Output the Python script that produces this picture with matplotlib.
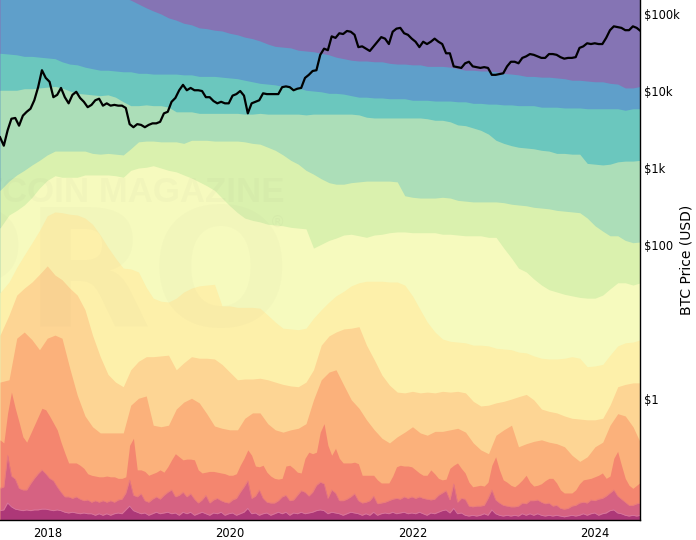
import matplotlib
matplotlib.use("Agg")
import matplotlib.pyplot as plt
import matplotlib.dates as mdates
import numpy as np
import pandas as pd

# upper edge of each age band, log10(USD), one value per month from 2017-07
band_1 = [5.3, 5.3, 5.3, 5.3, 5.3, 5.3, 5.3, 5.3, 5.3, 5.3, 5.3, 5.3,
          5.3, 5.3, 5.3, 5.3, 5.22, 5.18, 5.13, 5.08, 5.04, 5.00, 4.95, 4.92,
          4.88, 4.86, 4.82, 4.81, 4.79, 4.78, 4.75, 4.73, 4.70, 4.68, 4.65, 4.61,
          4.58, 4.57, 4.56, 4.53, 4.52, 4.51, 4.49, 4.47, 4.44, 4.42, 4.40, 4.39,
          4.39, 4.38, 4.38, 4.36, 4.35, 4.35, 4.34, 4.34, 4.32, 4.32, 4.32, 4.31,
          4.29, 4.27, 4.27, 4.26, 4.26, 4.25, 4.23, 4.22, 4.21, 4.19, 4.19, 4.18,
          4.18, 4.17, 4.16, 4.14, 4.14, 4.13, 4.12, 4.12, 4.10, 4.09, 4.04, 4.04,
          4.06]
band_2 = [4.49, 4.48, 4.47, 4.45, 4.45, 4.44, 4.43, 4.42, 4.38, 4.35, 4.34, 4.31,
          4.29, 4.27, 4.27, 4.26, 4.25, 4.25, 4.23, 4.23, 4.22, 4.22, 4.22, 4.22,
          4.21, 4.21, 4.19, 4.19, 4.19, 4.18, 4.17, 4.16, 4.14, 4.12, 4.10, 4.09,
          4.08, 4.06, 4.05, 4.04, 4.01, 4.00, 3.99, 3.97, 3.97, 3.96, 3.94, 3.92,
          3.92, 3.91, 3.91, 3.90, 3.90, 3.90, 3.88, 3.88, 3.88, 3.87, 3.87, 3.87,
          3.86, 3.86, 3.84, 3.84, 3.83, 3.83, 3.82, 3.82, 3.81, 3.81, 3.81, 3.79,
          3.79, 3.79, 3.78, 3.78, 3.78, 3.77, 3.77, 3.77, 3.77, 3.77, 3.75, 3.77,
          3.77]
band_3 = [4.01, 4.01, 4.01, 4.03, 4.03, 4.04, 4.05, 4.06, 4.04, 4.00, 3.97, 3.96,
          3.95, 3.94, 3.95, 3.92, 3.86, 3.81, 3.81, 3.82, 3.81, 3.81, 3.79, 3.73,
          3.73, 3.73, 3.71, 3.71, 3.71, 3.71, 3.71, 3.71, 3.70, 3.70, 3.71, 3.70,
          3.70, 3.70, 3.70, 3.70, 3.69, 3.70, 3.70, 3.70, 3.70, 3.70, 3.70, 3.69,
          3.66, 3.65, 3.65, 3.65, 3.65, 3.65, 3.65, 3.65, 3.64, 3.62, 3.62, 3.60,
          3.56, 3.55, 3.52, 3.49, 3.44, 3.36, 3.32, 3.29, 3.27, 3.26, 3.25, 3.23,
          3.22, 3.19, 3.19, 3.18, 3.18, 3.06, 3.05, 3.04, 3.05, 3.08, 3.09, 3.09,
          3.10]
band_4 = [2.71, 2.83, 2.91, 2.97, 3.04, 3.10, 3.17, 3.22, 3.22, 3.22, 3.22, 3.22,
          3.19, 3.18, 3.19, 3.18, 3.17, 3.25, 3.34, 3.35, 3.35, 3.34, 3.34, 3.34,
          3.32, 3.36, 3.36, 3.36, 3.35, 3.35, 3.35, 3.35, 3.34, 3.32, 3.31, 3.27,
          3.23, 3.17, 3.10, 3.05, 2.97, 2.92, 2.86, 2.81, 2.79, 2.79, 2.81, 2.82,
          2.83, 2.83, 2.83, 2.83, 2.82, 2.64, 2.62, 2.61, 2.61, 2.61, 2.62, 2.61,
          2.58, 2.57, 2.56, 2.56, 2.56, 2.56, 2.55, 2.53, 2.52, 2.51, 2.49, 2.48,
          2.47, 2.45, 2.44, 2.43, 2.42, 2.35, 2.25, 2.18, 2.12, 2.12, 2.06, 2.03,
          2.04]
band_5 = [2.22, 2.39, 2.45, 2.52, 2.62, 2.74, 2.84, 2.90, 2.88, 2.88, 2.88, 2.91,
          2.91, 2.91, 2.91, 2.90, 2.88, 2.97, 3.00, 3.01, 3.03, 3.00, 2.97, 2.95,
          2.91, 2.87, 2.82, 2.77, 2.71, 2.61, 2.51, 2.42, 2.35, 2.32, 2.30, 2.27,
          2.26, 2.25, 2.23, 2.22, 2.21, 1.96, 2.01, 2.06, 2.09, 2.13, 2.14, 2.12,
          2.10, 2.13, 2.14, 2.16, 2.17, 2.17, 2.16, 2.16, 2.16, 2.16, 2.14, 2.14,
          2.13, 2.12, 2.12, 2.12, 2.10, 2.10, 1.96, 1.83, 1.70, 1.65, 1.56, 1.48,
          1.42, 1.39, 1.36, 1.34, 1.32, 1.31, 1.31, 1.35, 1.43, 1.51, 1.51, 1.48,
          1.51]
band_6 = [1.38, 1.52, 1.71, 1.87, 2.03, 2.19, 2.38, 2.43, 2.42, 2.40, 2.39, 2.35,
          2.27, 2.13, 1.97, 1.83, 1.70, 1.69, 1.65, 1.45, 1.31, 1.27, 1.26, 1.31,
          1.39, 1.44, 1.47, 1.48, 1.49, 1.21, 1.21, 1.19, 1.19, 1.19, 1.18, 1.09,
          1.00, 0.92, 0.91, 0.90, 0.92, 1.05, 1.16, 1.26, 1.34, 1.40, 1.47, 1.51,
          1.53, 1.53, 1.53, 1.52, 1.52, 1.48, 1.34, 1.16, 1.00, 0.87, 0.78, 0.75,
          0.74, 0.73, 0.70, 0.70, 0.69, 0.66, 0.65, 0.64, 0.61, 0.60, 0.56, 0.53,
          0.52, 0.52, 0.53, 0.55, 0.53, 0.42, 0.43, 0.45, 0.57, 0.69, 0.73, 0.74,
          0.77]
band_7 = [0.83, 1.09, 1.35, 1.44, 1.52, 1.62, 1.73, 1.61, 1.55, 1.44, 1.35, 1.16,
          0.83, 0.55, 0.32, 0.22, 0.16, 0.38, 0.49, 0.55, 0.55, 0.56, 0.57, 0.38,
          0.47, 0.55, 0.53, 0.53, 0.52, 0.45, 0.35, 0.25, 0.26, 0.26, 0.27, 0.25,
          0.22, 0.19, 0.17, 0.16, 0.22, 0.38, 0.70, 0.82, 0.87, 0.91, 0.92, 0.94,
          0.70, 0.51, 0.31, 0.18, 0.09, 0.08, 0.10, 0.08, 0.09, 0.08, 0.10, 0.09,
          0.10, 0.08, -0.03, -0.09, -0.08, -0.05, -0.03, 0.00, 0.03, 0.06, -0.01, -0.13,
          -0.16, -0.18, -0.22, -0.25, -0.26, -0.27, -0.27, -0.25, -0.08, 0.16, 0.19, 0.21,
          0.21]
band_8 = [0.22, 0.25, 0.79, 0.87, 0.77, 0.64, 0.79, 0.83, 0.79, 0.40, 0.05, -0.22,
          -0.36, -0.44, -0.44, -0.44, -0.44, -0.08, 0.01, 0.04, -0.34, -0.36, -0.34, -0.13,
          -0.04, 0.01, -0.05, -0.19, -0.35, -0.38, -0.40, -0.40, -0.25, -0.18, -0.18, -0.32,
          -0.40, -0.43, -0.40, -0.38, -0.32, -0.01, 0.25, 0.35, 0.38, 0.18, -0.01, -0.12,
          -0.27, -0.40, -0.51, -0.57, -0.49, -0.43, -0.36, -0.44, -0.47, -0.42, -0.42, -0.40,
          -0.38, -0.43, -0.57, -0.66, -0.71, -0.47, -0.40, -0.34, -0.62, -0.58, -0.55, -0.53,
          -0.56, -0.58, -0.62, -0.73, -0.81, -0.75, -0.62, -0.56, -0.34, -0.19, -0.22, -0.36,
          -0.57]

# the young bands and the price move faster, so two values per month
band_9 = [-0.53, -0.57, -0.18, 0.09, -0.12, -0.30, -0.49, -0.56, -0.45, -0.34, -0.23, -0.12,
          -0.14, -0.22, -0.31, -0.40, -0.56, -0.70, -0.83, -0.83, -0.83, -0.86, -0.90, -0.97,
          -0.99, -1.00, -1.01, -1.01, -1.00, -1.01, -1.01, -1.03, -1.03, -1.01, -0.60, -0.51,
          -0.92, -0.92, -0.94, -0.99, -0.97, -0.95, -0.92, -0.95, -0.88, -0.79, -0.71, -0.75,
          -0.79, -0.78, -0.78, -0.79, -0.92, -0.96, -0.95, -0.94, -0.94, -0.95, -0.96, -0.97,
          -0.99, -0.99, -0.97, -0.86, -0.77, -0.66, -0.73, -0.87, -0.88, -0.86, -0.95, -1.00,
          -1.03, -1.04, -1.03, -0.87, -0.86, -0.90, -0.95, -0.96, -0.77, -0.69, -0.71, -0.69,
          -0.43, -0.32, -0.60, -0.73, -0.64, -0.77, -0.83, -0.83, -0.83, -0.82, -0.84, -0.99,
          -0.99, -0.99, -0.99, -1.05, -1.09, -1.09, -1.09, -1.00, -0.88, -0.86, -0.87, -0.87,
          -0.88, -0.92, -0.96, -0.99, -0.99, -0.92, -0.97, -1.03, -1.05, -1.04, -0.90, -0.86,
          -0.83, -0.90, -0.96, -1.08, -1.14, -1.13, -1.12, -1.13, -1.08, -0.86, -0.75, -0.92,
          -1.05, -1.08, -1.12, -1.14, -1.10, -1.05, -0.99, -1.08, -1.13, -1.12, -1.10, -1.06,
          -1.03, -1.03, -1.09, -1.18, -1.22, -1.22, -1.22, -1.18, -1.10, -1.05, -1.04, -1.03,
          -1.01, -0.99, -0.96, -1.03, -1.00, -0.77, -0.68, -0.86, -1.03, -1.12, -1.16, -1.12,
          -1.08]
band_10 = [-1.16, -1.14, -0.73, -1.00, -1.04, -1.16, -1.18, -1.18, -1.10, -1.03, -0.97, -0.92,
           -0.97, -1.03, -1.06, -1.14, -1.21, -1.27, -1.27, -1.29, -1.27, -1.30, -1.32, -1.31,
           -1.34, -1.32, -1.34, -1.32, -1.34, -1.32, -1.34, -1.31, -1.30, -1.22, -1.05, -1.25,
           -1.27, -1.23, -1.32, -1.34, -1.30, -1.27, -1.30, -1.25, -1.21, -1.18, -1.27, -1.25,
           -1.21, -1.27, -1.23, -1.30, -1.35, -1.31, -1.25, -1.35, -1.31, -1.29, -1.32, -1.34,
           -1.35, -1.31, -1.29, -1.21, -1.14, -1.06, -1.29, -1.26, -1.18, -1.29, -1.34, -1.35,
           -1.35, -1.32, -1.27, -1.25, -1.32, -1.31, -1.25, -1.19, -1.21, -1.26, -1.21, -1.12,
           -1.08, -1.10, -1.29, -1.18, -1.22, -1.32, -1.32, -1.30, -1.27, -1.23, -1.32, -1.35,
           -1.34, -1.32, -1.26, -1.36, -1.35, -1.34, -1.32, -1.30, -1.29, -1.30, -1.27, -1.29,
           -1.27, -1.29, -1.27, -1.29, -1.30, -1.31, -1.30, -1.25, -1.22, -1.19, -1.31, -1.10,
           -1.34, -1.29, -1.30, -1.39, -1.40, -1.39, -1.39, -1.38, -1.29, -1.18, -1.31, -1.35,
           -1.38, -1.39, -1.40, -1.40, -1.39, -1.35, -1.36, -1.32, -1.32, -1.31, -1.34, -1.36,
           -1.35, -1.39, -1.38, -1.42, -1.43, -1.42, -1.39, -1.38, -1.35, -1.34, -1.35, -1.31,
           -1.32, -1.30, -1.29, -1.26, -1.22, -1.18, -1.26, -1.30, -1.34, -1.38, -1.38, -1.36,
           -1.35]
band_11 = [-1.45, -1.44, -1.35, -1.40, -1.43, -1.44, -1.45, -1.44, -1.45, -1.44, -1.44, -1.43,
           -1.43, -1.44, -1.45, -1.44, -1.45, -1.47, -1.48, -1.47, -1.48, -1.49, -1.48, -1.49,
           -1.49, -1.51, -1.49, -1.51, -1.49, -1.51, -1.49, -1.48, -1.49, -1.44, -1.39, -1.45,
           -1.47, -1.49, -1.48, -1.51, -1.49, -1.47, -1.49, -1.48, -1.47, -1.49, -1.48, -1.51,
           -1.47, -1.49, -1.47, -1.51, -1.49, -1.47, -1.49, -1.51, -1.48, -1.49, -1.47, -1.51,
           -1.49, -1.48, -1.51, -1.49, -1.47, -1.42, -1.49, -1.48, -1.51, -1.49, -1.48, -1.51,
           -1.49, -1.47, -1.49, -1.47, -1.51, -1.48, -1.49, -1.47, -1.49, -1.48, -1.47, -1.45,
           -1.44, -1.45, -1.49, -1.47, -1.48, -1.49, -1.51, -1.49, -1.47, -1.48, -1.49, -1.51,
           -1.49, -1.51, -1.47, -1.51, -1.49, -1.48, -1.49, -1.47, -1.49, -1.48, -1.47, -1.49,
           -1.48, -1.49, -1.47, -1.49, -1.51, -1.48, -1.49, -1.47, -1.45, -1.44, -1.48, -1.42,
           -1.49, -1.48, -1.51, -1.52, -1.51, -1.52, -1.51, -1.49, -1.51, -1.44, -1.49, -1.51,
           -1.52, -1.51, -1.52, -1.51, -1.52, -1.49, -1.51, -1.49, -1.51, -1.49, -1.51, -1.52,
           -1.51, -1.52, -1.51, -1.52, -1.53, -1.52, -1.51, -1.52, -1.51, -1.49, -1.51, -1.49,
           -1.48, -1.51, -1.49, -1.48, -1.45, -1.44, -1.48, -1.49, -1.51, -1.52, -1.51, -1.52,
           -1.51]
btc_price = [3.40, 3.29, 3.49, 3.64, 3.65, 3.55, 3.68, 3.73, 3.77, 3.88, 4.05, 4.27,
             4.17, 4.12, 3.92, 3.95, 4.04, 3.92, 3.84, 3.95, 3.99, 3.91, 3.86, 3.79,
             3.82, 3.88, 3.90, 3.81, 3.84, 3.81, 3.82, 3.81, 3.81, 3.78, 3.57, 3.53,
             3.57, 3.56, 3.53, 3.56, 3.58, 3.58, 3.60, 3.71, 3.73, 3.86, 3.91, 4.01,
             4.08, 4.01, 4.04, 4.01, 4.01, 4.00, 3.92, 3.92, 3.87, 3.84, 3.86, 3.84,
             3.84, 3.94, 3.96, 4.00, 3.94, 3.71, 3.84, 3.86, 3.88, 3.97, 3.96, 3.96,
             3.96, 3.96, 4.05, 4.06, 4.05, 4.01, 4.03, 4.04, 4.17, 4.21, 4.26, 4.27,
             4.47, 4.55, 4.53, 4.71, 4.69, 4.75, 4.74, 4.78, 4.77, 4.73, 4.57, 4.58,
             4.55, 4.52, 4.58, 4.64, 4.70, 4.68, 4.61, 4.77, 4.81, 4.82, 4.75, 4.73,
             4.68, 4.64, 4.57, 4.64, 4.61, 4.64, 4.68, 4.64, 4.61, 4.49, 4.49, 4.32,
             4.31, 4.30, 4.36, 4.38, 4.32, 4.31, 4.30, 4.31, 4.30, 4.21, 4.21, 4.22,
             4.23, 4.32, 4.38, 4.38, 4.36, 4.43, 4.45, 4.48, 4.47, 4.45, 4.43, 4.43,
             4.48, 4.48, 4.47, 4.44, 4.42, 4.43, 4.43, 4.44, 4.56, 4.58, 4.62, 4.61,
             4.62, 4.61, 4.61, 4.69, 4.79, 4.84, 4.83, 4.82, 4.79, 4.79, 4.84, 4.82,
             4.78]

band_colors = ["#5f9fca", "#6bc7be", "#acdeb8", "#daf1ae", "#f6fabe", "#fdf0aa",
               "#fdd594", "#fbb17b", "#f4866f", "#d66282", "#ad3878"]
top_color = "#8574b4"
y_ticks = [1, 100, 1000, 10000, 100000]
y_tick_labels = ["$1", "$100", "$1k", "$10k", "$100k"]
x_tick_years = [2018, 2020, 2022, 2024]

x_start = mdates.date2num(pd.Timestamp("2017-06-26"))
x_end = mdates.date2num(pd.Timestamp("2024-06-29"))
months = mdates.date2num(pd.date_range("2017-07-01", periods=85, freq="MS"))
months[0] = x_start
half_months = np.linspace(months[0], months[-1], 169)
ymin, ymax = 10 ** -1.571, 10 ** 5.182

fig = plt.figure(figsize=(6.96, 5.4), dpi=100)
ax = fig.add_axes([0, 20 / 540, 640 / 696, 520 / 540])
ax.set_facecolor(top_color)

monthly = [band_1, band_2, band_3, band_4, band_5, band_6, band_7, band_8]
faster = [band_9, band_10, band_11]
for band, color in zip(monthly, band_colors[:8]):
    ax.fill_between(months, ymin, 10 ** np.array(band), color=color, lw=0)
for band, color in zip(faster, band_colors[8:]):
    ax.fill_between(half_months, ymin, 10 ** np.array(band), color=color, lw=0)
ax.plot(half_months, 10 ** np.array(band_10), color="#e87a80", lw=0.5)
ax.plot(half_months, 10 ** np.array(band_11), color="#d877a0", lw=0.6)
ax.plot(half_months, 10 ** np.array(btc_price), color="black", lw=1.6, solid_joinstyle="round")

ax.set_yscale("log")
ax.set_ylim(ymin, ymax)
ax.set_xlim(x_start, x_end)

ax.yaxis.tick_right()
ax.yaxis.set_label_position("right")
ax.set_yticks(y_ticks)
ax.set_yticklabels(y_tick_labels)
ax.minorticks_off()
ax.set_xticks(mdates.date2num([pd.Timestamp(str(y) + "-01-01") for y in x_tick_years]))
ax.set_xticklabels([str(y) for y in x_tick_years])
ax.tick_params(axis="y", length=0, labelsize=8.3, pad=3)
ax.tick_params(axis="x", length=0, labelsize=8.3, pad=5)
ax.set_ylabel("BTC Price (USD)", fontsize=10, va="center")
ax.yaxis.set_label_coords(686 / 640, 0.5)

ax.spines["top"].set_visible(False)
ax.spines["left"].set_visible(False)
ax.spines["right"].set_linewidth(1.0)
ax.spines["bottom"].set_linewidth(1.0)

# watermark, barely visible in the original
ax.text(285 / 640, 1 - 193 / 520, "BITCOIN MAGAZINE", transform=ax.transAxes, ha="right", va="center",
        fontsize=25, fontweight="bold", family="Liberation Sans", color="#707060", alpha=0.03, clip_on=True)
ax.text(278 / 640, 1 - 222 / 520, "®", transform=ax.transAxes, ha="center", va="center",
        fontsize=11, color="#707060", alpha=0.04)
ax.text(290 / 640, 1 - 280 / 520, "PRO", transform=ax.transAxes, ha="right", va="center",
        fontsize=118, fontweight="bold", color="#707060", alpha=0.025, clip_on=True)

plt.savefig("out.png", dpi=100)
plt.close()
